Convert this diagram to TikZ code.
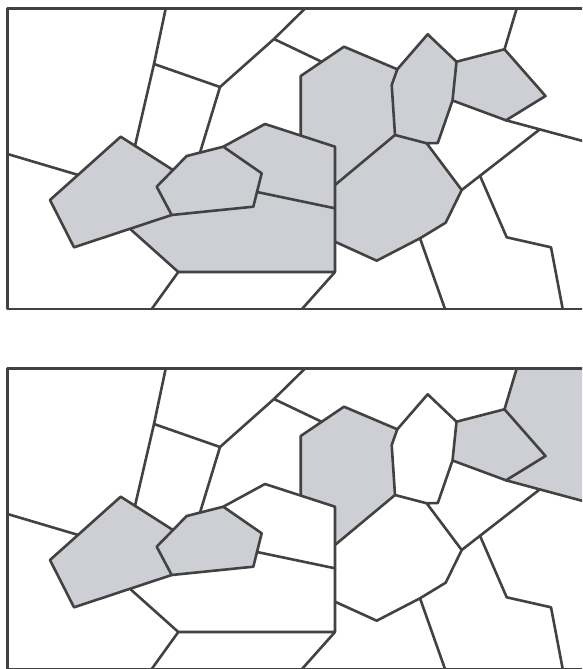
\documentclass[tikz,border=0pt]{standalone}
\usetikzlibrary{calc}
\definecolor{cellgray}{RGB}{206,207,212}
\definecolor{edgecol}{RGB}{66,66,66}
\tikzset{
  cell/.style={fill=cellgray,draw=none},
  edge/.style={draw=edgecol,line width=2.6pt,line join=round,line cap=round},
}
\newcommand{\defpts}{%
  \coordinate (T1) at (165.7,8.5);
  \coordinate (A) at (154,64);
  \coordinate (A2) at (135,145.8);
  \coordinate (B) at (220,87);
  \coordinate (C) at (274,39);
  \coordinate (C1) at (305,8.5);
  \coordinate (D) at (321.7,61.8);
  \coordinate (B2) at (200,152.6);
  \coordinate (L1) at (7.5,154);
  \coordinate (L2) at (78,174.9);
  \coordinate (p1a) at (50,200);
  \coordinate (p1b) at (120.7,136.7);
  \coordinate (p1c) at (173,170);
  \coordinate (p1e) at (74,247.3);
  \coordinate (q1) at (156.7,186.7);
  \coordinate (q2) at (186.7,156);
  \coordinate (q3) at (223.3,146.7);
  \coordinate (q4) at (261.7,173.3);
  \coordinate (q5) at (253.3,206.7);
  \coordinate (q6) at (171.7,215);
  \coordinate (r1) at (265,124);
  \coordinate (r2) at (335,146.7);
  \coordinate (r4) at (335,208.3);
  \coordinate (r5) at (335,241.7);
  \coordinate (r6) at (335,272);
  \coordinate (r7) at (178.3,272);
  \coordinate (r8) at (130,228.8);
  \coordinate (m1) at (257,192);
  \coordinate (T2) at (151.7,309);
  \coordinate (T3) at (302,309);
  \coordinate (h1) at (300.7,76);
  \coordinate (h2) at (344,46.7);
  \coordinate (h3) at (397.3,69.3);
  \coordinate (h4) at (391.7,85);
  \coordinate (h5) at (395,135);
  \coordinate (h6) at (335,185);
  \coordinate (h8) at (300.7,135.6);
  \coordinate (g1) at (427.7,34.3);
  \coordinate (g2) at (456.5,61.7);
  \coordinate (g3) at (452.5,100.5);
  \coordinate (g4) at (437.8,143);
  \coordinate (g5) at (426.7,143.3);
  \coordinate (s3) at (461.7,190);
  \coordinate (s4) at (445.7,222.7);
  \coordinate (s5) at (420,238.3);
  \coordinate (s6) at (376.7,260.7);
  \coordinate (k1) at (504.5,49.3);
  \coordinate (k2) at (545.5,96);
  \coordinate (k3) at (506,120.3);
  \coordinate (T4) at (516.7,8.5);
  \coordinate (RR) at (600,145.6);
  \coordinate (RT) at (600,8.5);
  \coordinate (n1) at (540,129.2);
  \coordinate (n2) at (480,175.8);
  \coordinate (n3) at (506.7,237.3);
  \coordinate (n4) at (551,247.3);
  \coordinate (T5) at (562.7,309);
  \coordinate (T6) at (445,309);
  \coordinate (FA) at (7.5,8.5);
  \coordinate (FB) at (600,309);
}
\newcommand{\drawedges}{%
  \draw[edge] (FA) rectangle (FB);
  \draw[edge] (T1) -- (A) -- (A2);
  \draw[edge] (A) -- (B) -- (C) -- (C1);
  \draw[edge] (C) -- (D);
  \draw[edge] (B) -- (B2);
  \draw[edge] (L1) -- (L2);
  \draw[edge] (p1c) -- (p1b) -- (p1a) -- (p1e) -- (q6);
  \draw[edge] (q1) -- (q2) -- (q3) -- (q4) -- (q5) -- (q6) -- cycle;
  \draw[edge] (q3) -- (r1) -- (r2) -- (r6) -- (r7) -- (r8);
  \draw[edge] (m1) -- (r4);
  \draw[edge] (r7) -- (T2);
  \draw[edge] (r6) -- (T3);
  \draw[edge] (h8) -- (h1) -- (h2) -- (h3) -- (h4) -- (h5) -- (h6);
  \draw[edge] (h3) -- (g1) -- (g2) -- (g3) -- (g4) -- (g5) -- (h5);
  \draw[edge] (g5) -- (s3) -- (s4) -- (s5) -- (s6) -- (r5);
  \draw[edge] (g2) -- (k1) -- (k2) -- (k3) -- (g3);
  \draw[edge] (k1) -- (T4);
  \draw[edge] (k3) -- (RR);
  \draw[edge] (n1) -- (s3);
  \draw[edge] (n2) -- (n3) -- (n4) -- (T5);
  \draw[edge] (s5) -- (T6);
}
\begin{document}
\begin{tikzpicture}[x=1pt,y=-1pt]
\useasboundingbox (0,0) rectangle (582,669);
\clip (0,0) rectangle (582,669);
\fill[white] (0,0) rectangle (582,669);
% upper panel
\begin{scope}
  \defpts
  \fill[cell] (p1a) -- (p1b) -- (p1c) -- (q1) -- (q6) -- (p1e) -- cycle;
  \fill[cell] (q1) -- (q2) -- (q3) -- (q4) -- (q5) -- (q6) -- cycle;
  \fill[cell] (q3) -- (r1) -- (r2) -- (r6) -- (r7) -- (r8) -- (q6) -- (q5) -- (q4) -- cycle;
  \fill[cell] (h8) -- (h1) -- (h2) -- (h3) -- (h4) -- (h5) -- (h6) -- (r2) -- cycle;
  \fill[cell] (h4) -- (h3) -- (g1) -- (g2) -- (g3) -- (g4) -- (g5) -- (h5) -- cycle;
  \fill[cell] (h6) -- (h5) -- (g5) -- (s3) -- (s4) -- (s5) -- (s6) -- (r5) -- cycle;
  \fill[cell] (g2) -- (k1) -- (k2) -- (k3) -- (g3) -- cycle;
  \drawedges
\end{scope}
% lower panel
\begin{scope}[shift={(0,360)}]
  \defpts
  \fill[cell] (p1a) -- (p1b) -- (p1c) -- (q1) -- (q6) -- (p1e) -- cycle;
  \fill[cell] (q1) -- (q2) -- (q3) -- (q4) -- (q5) -- (q6) -- cycle;
  \fill[cell] (h8) -- (h1) -- (h2) -- (h3) -- (h4) -- (h5) -- (h6) -- (r2) -- cycle;
  \fill[cell] (g2) -- (k1) -- (k2) -- (k3) -- (g3) -- cycle;
  \fill[cell] (T4) -- (RT) -- (RR) -- (k3) -- (k2) -- (k1) -- cycle;
  \drawedges
\end{scope}
\end{tikzpicture}
\end{document}
